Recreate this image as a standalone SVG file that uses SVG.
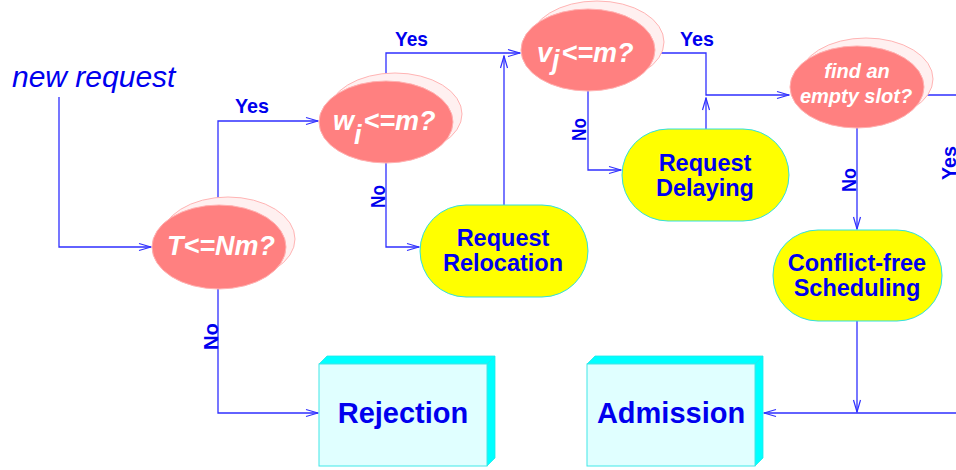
<svg xmlns="http://www.w3.org/2000/svg" width="956" height="470" viewBox="0 0 956 470">
  <defs>
    <marker id="arr" viewBox="-13 -5 14 10" refX="0" refY="0" markerWidth="14" markerHeight="10" orient="auto" markerUnits="userSpaceOnUse">
      <path d="M-12,-3.5 L0,0 L-12,3.5" fill="none" stroke="#2f2fff" stroke-width="1.2"/>
    </marker>
  </defs>
  <style>
    .wire { fill: none; stroke: #2f2fff; stroke-width: 1.3; marker-end: url(#arr); }
    .back { fill: #fff0f0; stroke: #ffb4b4; stroke-width: 1; }
    .front { fill: #ff8080; stroke: #ffb0b0; stroke-width: 1; }
    .qtxt { fill: #ffffff; font-family: "Liberation Sans", Arial, sans-serif; font-weight: bold; font-style: italic; }
    .pill { fill: #ffff00; stroke: #30e0e0; stroke-width: 1; }
    .ptxt { fill: #0000ee; font-family: "Liberation Sans", Arial, sans-serif; font-weight: bold; font-size: 23.5px; text-anchor: middle; }
    .face { fill: #e0ffff; stroke: #40e8e8; stroke-width: 1; }
    .side { fill: #00ffff; stroke: #20e8e8; stroke-width: 0.8; }
    .btxt { fill: #0000ee; font-family: "Liberation Sans", Arial, sans-serif; font-weight: bold; font-size: 29px; text-anchor: middle; }
    .lbl { fill: #0000ee; font-family: "Liberation Sans", Arial, sans-serif; font-weight: bold; font-size: 21px; }
  </style>
  <rect width="956" height="470" fill="#ffffff"/>

  <!-- connectors -->
  <g id="connectors">
    <path class="wire" d="M59,97 V247 H151"/>
    <path class="wire" d="M218,205 V121 H318"/>
    <path class="wire" d="M218,289 V413 H318"/>
    <path class="wire" d="M386,83 V53 H520"/>
    <path class="wire" d="M386,163 V247 H419"/>
    <path class="wire" d="M504,205 V56"/>
    <path class="wire" d="M655,53 H706 V95 H789"/>
    <path class="wire" d="M588,91 V170 H621"/>
    <path class="wire" d="M706,129 V98"/>
    <path class="wire" d="M857,128 V229"/>
    <path class="wire" d="M924,95 H960 V413 H764"/>
    <path class="wire" d="M857,321 V412"/>
    <text class="lbl" x="235" y="113" textLength="34" lengthAdjust="spacingAndGlyphs">Yes</text>
    <text class="lbl" x="395" y="46" textLength="33" lengthAdjust="spacingAndGlyphs">Yes</text>
    <text class="lbl" x="680" y="46" textLength="34" lengthAdjust="spacingAndGlyphs">Yes</text>
    <text class="lbl" transform="translate(218,350) rotate(-90)" textLength="27" lengthAdjust="spacingAndGlyphs">No</text>
    <text class="lbl" transform="translate(385,208) rotate(-90)" textLength="23" lengthAdjust="spacingAndGlyphs">No</text>
    <text class="lbl" transform="translate(586,141) rotate(-90)" textLength="23" lengthAdjust="spacingAndGlyphs">No</text>
    <text class="lbl" transform="translate(856,192) rotate(-90)" textLength="24" lengthAdjust="spacingAndGlyphs">No</text>
    <text class="lbl" transform="translate(956,180) rotate(-90)" textLength="34" lengthAdjust="spacingAndGlyphs">Yes</text>
  </g>

  <g id="start">
    <text x="12" y="87" fill="#0000ee" font-family="Liberation Sans, Arial, sans-serif" font-style="italic" font-size="30">new request</text>
  </g>

  <!-- decisions -->
  <g id="q-total">
    <ellipse class="back" cx="228" cy="239" rx="67" ry="42"/>
    <ellipse class="front" cx="219" cy="247" rx="67" ry="42"/>
    <text class="qtxt" x="221" y="255" font-size="27" text-anchor="middle">T&lt;=Nm?</text>
  </g>
  <g id="q-w">
    <ellipse class="back" cx="395" cy="114" rx="67" ry="41"/>
    <ellipse class="front" cx="386" cy="122" rx="67" ry="41"/>
    <text class="qtxt" x="333" y="130" font-size="27">w<tspan dy="14">i</tspan><tspan dy="-14" dx="2">&lt;=m?</tspan></text>
  </g>
  <g id="q-v">
    <ellipse class="back" cx="597" cy="42" rx="67" ry="41"/>
    <ellipse class="front" cx="588" cy="50" rx="67" ry="41"/>
    <text class="qtxt" x="537" y="62" font-size="27">v<tspan dy="7">j</tspan><tspan dy="-7" dx="2">&lt;=m?</tspan></text>
  </g>
  <g id="q-slot">
    <ellipse class="back" cx="866" cy="79" rx="67" ry="41"/>
    <ellipse class="front" cx="857" cy="87" rx="67" ry="41"/>
    <text class="qtxt" x="857" y="78" font-size="20" text-anchor="middle">find an</text>
    <text class="qtxt" x="856" y="103" font-size="20" text-anchor="middle">empty slot?</text>
  </g>

  <!-- actions -->
  <g id="relocation">
    <rect class="pill" x="420" y="205" width="168" height="92" rx="46"/>
    <text class="ptxt" x="503" y="246">Request</text>
    <text class="ptxt" x="503" y="271">Relocation</text>
  </g>
  <g id="delaying">
    <rect class="pill" x="622" y="129" width="167" height="92" rx="46"/>
    <text class="ptxt" x="705" y="171">Request</text>
    <text class="ptxt" x="705" y="196">Delaying</text>
  </g>
  <g id="scheduling">
    <rect class="pill" x="773" y="230" width="169" height="91" rx="45"/>
    <text class="ptxt" x="857" y="271">Conflict-free</text>
    <text class="ptxt" x="857" y="296">Scheduling</text>
  </g>

  <!-- outcomes -->
  <g id="rejection">
    <polygon class="side" points="319,364 327,356 495,356 487,364"/>
    <polygon class="side" points="487,364 495,356 495,458 487,466"/>
    <rect class="face" x="319" y="364" width="168" height="102"/>
    <text class="btxt" x="403" y="423">Rejection</text>
  </g>
  <g id="admission">
    <polygon class="side" points="587,364 595,356 763,356 755,364"/>
    <polygon class="side" points="755,364 763,356 763,458 755,466"/>
    <rect class="face" x="587" y="364" width="168" height="102"/>
    <text class="btxt" x="671" y="423">Admission</text>
  </g>
</svg>
